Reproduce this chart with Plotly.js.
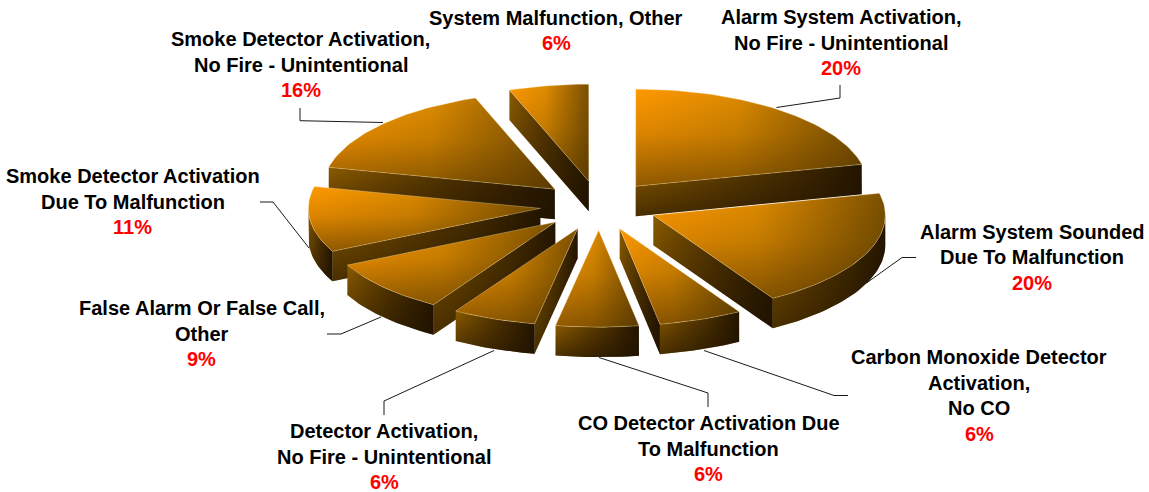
<!DOCTYPE html>
<html><head><meta charset="utf-8">
<script src="https://cdn.plot.ly/plotly-3.0.1.min.js"></script>
<style>html,body{margin:0;padding:0;background:#fff}#c{width:1149px;height:492px}</style>
</head><body><div id="c"></div>
<script>
// ---- data ----
const categories = [
  ["Alarm System Activation,","No Fire - Unintentional"],
  ["Alarm System Sounded","Due To Malfunction"],
  ["Carbon Monoxide Detector","Activation,","No CO"],
  ["CO Detector Activation Due","To Malfunction"],
  ["Detector Activation,","No Fire - Unintentional"],
  ["False Alarm Or False Call,","Other"],
  ["Smoke Detector Activation","Due To Malfunction"],
  ["Smoke Detector Activation,","No Fire - Unintentional"],
  ["System Malfunction, Other"]
];
const values = [20,20,6,6,6,9,11,16,6];

// ---- layout of the projected pie (pixel-aligned axes) ----
const CX=599, CY=205.5, RX=232, RY=97, EXPLODE=59, DEPTH=30;
// perspective correction of each slice's closing boundary, in degrees
const boundaryNudge=[5,5,4.4,3.5,2.9,2.5,2.2,1.6,0];
const labelCentres=[[840.5,17],[1032,231.5],[979,357],[708.5,423],[384,431],[201.5,308],[132.5,176],[300.5,39],[556,17.5]];
const leaders=[
 [[776.5,107.5],[840,98],[840,85]],
 [[866.5,283],[902,257.5],[916,257.5]],
 [[704,350.5],[834,395.5],[848,395.5]],
 [[599,357.5],[708,393],[708,407]],
 [[494,350.5],[384,401],[384,415]],
 [[381,317],[341,334],[327,334]],
 [[309,248],[273,202],[260,202]],
 [[383,122.5],[300,120.7],[300,108]]
];
const LINE_H=25.5;

const total=values.reduce((a,b)=>a+b,0);
const rad=d=>d*Math.PI/180;
let cum=0, prev=0;
const slices=values.map((v,i)=>{
  cum+=v; const a0=prev, a1=cum/total*360+boundaryNudge[i]; prev=a1; const mid=(a0+a1)/2;
  return {i,a0,a1,mid,
    ax:CX+EXPLODE*Math.sin(rad(mid)), ay:CY-EXPLODE*(RY/RX)*Math.cos(rad(mid))};
});
const rim=(s,a,dz=0)=>[s.ax+RX*Math.sin(rad(a)), s.ay-RY*Math.cos(rad(a))+dz];
const arc=(s,a,b,dz=0)=>{const p=[];const n=Math.max(2,Math.ceil(Math.abs(b-a)/1.5));
  for(let k=0;k<=n;k++)p.push(rim(s,a+(b-a)*k/n,dz));return p;};

function poly(pts,opt){
  const x=pts.map(p=>p[0]),y=pts.map(p=>p[1]);
  x.push(x[0]);y.push(y[0]);
  return Object.assign({type:'scatter',mode:'lines',x,y,fill:'toself',hoverinfo:'skip',showlegend:false,line:{width:0}},opt);
}
const grad=(type,stops)=>({type,colorscale:stops});
function shaded(pts,kind,outline){
  const out=[];
  if(kind==='top'){
    out.push(poly(pts,{fillgradient:grad('horizontal',[[0,'#ff9900'],[0.45,'#e08c00'],[1,'#7a5000']])}));
    // y axis is reversed: colour stop 1 sits at the top of the shape
    out.push(poly(pts,{fillgradient:grad('vertical',[[0,'rgba(70,45,0,0.6)'],[0.55,'rgba(70,45,0,0.18)'],[1,'rgba(70,45,0,0)']])}));
    if(outline){out[1].line={width:0.7,color:'rgba(255,235,190,0.45)'};}
  }else{
    out.push(poly(pts,{fillgradient:grad('horizontal',[[0,'#8a5a00'],[0.5,'#553600'],[1,'#241500']])}));
    out.push(poly(pts,{fillgradient:grad('vertical',[[0,'rgba(30,18,0,0.6)'],[1,'rgba(30,18,0,0)']])}));
  }
  return out;
}
const traces=[];
const order=[...slices].sort((p,q)=>Math.cos(rad(q.mid))-Math.cos(rad(p.mid)));
for(const s of order){
  const A=[s.ax,s.ay],Ad=[s.ax,s.ay+DEPTH];
  if(s.a0>180&&s.a0<360){
    traces.push(...shaded([rim(s,s.a0),A,Ad,rim(s,s.a0,DEPTH)],'side'));
  }
  if(s.a1>0&&s.a1<180){
    traces.push(...shaded([A,rim(s,s.a1),rim(s,s.a1,DEPTH),Ad],'side'));
  }
  const from=Math.max(s.a0,90),to=Math.min(s.a1,270);
  if(to>from){
    traces.push(...shaded([...arc(s,from,to),...arc(s,to,from,DEPTH)],'side'));
  }
  traces.push(...shaded([A,...arc(s,s.a0,s.a1)],'top',true));
}
for(const l of leaders){
  traces.push({type:'scatter',mode:'lines',x:l.map(p=>p[0]),y:l.map(p=>p[1]),hoverinfo:'skip',showlegend:false,
    line:{color:'#1a1a1a',width:1}});
}
const annotations=[];
const FONT='"Liberation Sans", Arial, sans-serif';
categories.forEach((lines,i)=>{
  const [cx,y0]=labelCentres[i];
  lines.forEach((t,k)=>annotations.push({x:cx,y:y0+k*LINE_H,xref:'x',yref:'y',text:'<b>'+t+'</b>',showarrow:false,
    xanchor:'center',yanchor:'middle',font:{family:FONT,size:20,color:'#000'}}));
  annotations.push({x:cx,y:y0+lines.length*LINE_H,xref:'x',yref:'y',text:'<b>'+values[i]+'%</b>',showarrow:false,
    xanchor:'center',yanchor:'middle',font:{family:FONT,size:20,color:'#ff0000'}});
});
Plotly.newPlot('c',traces,{
  width:1149,height:492,margin:{l:0,r:0,t:0,b:0},paper_bgcolor:'#fff',plot_bgcolor:'#fff',showlegend:false,
  xaxis:{range:[0,1149],visible:false,fixedrange:true},
  yaxis:{range:[492,0],visible:false,fixedrange:true},
  annotations
},{staticPlot:true,displayModeBar:false});
</script></body></html>
